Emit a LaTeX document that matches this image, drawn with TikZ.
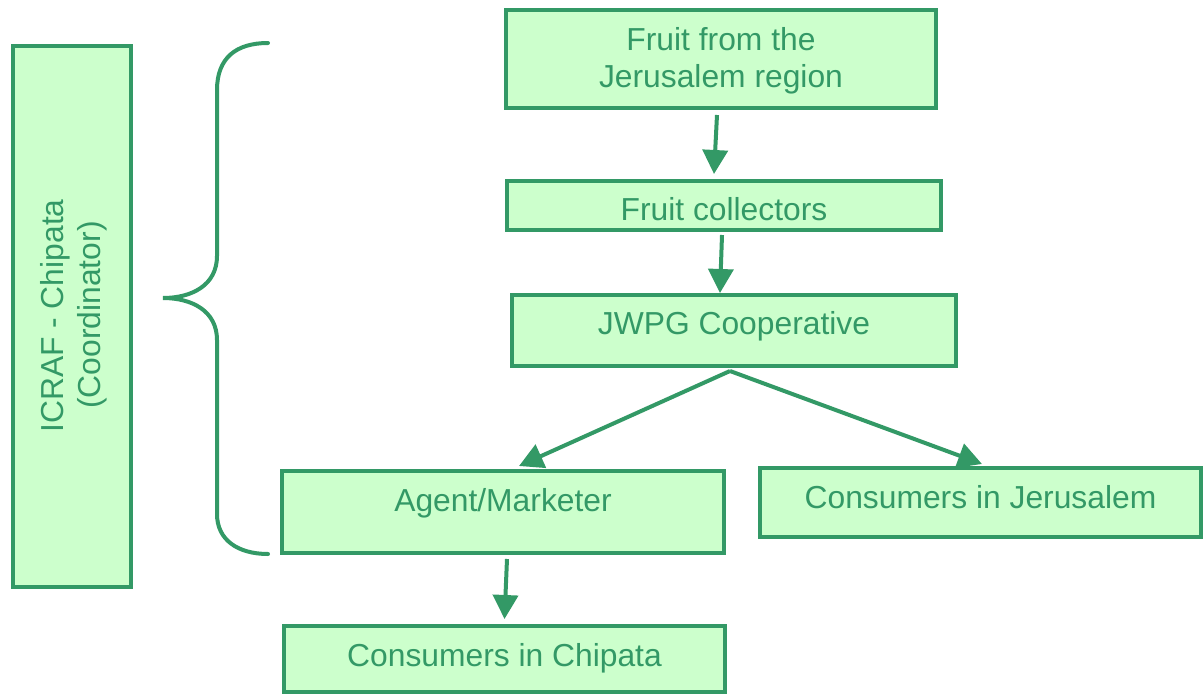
\documentclass[tikz,border=0pt]{standalone}
\usepackage{fontspec}
\setmainfont{Liberation Sans}
\usetikzlibrary{arrows.meta}
\definecolor{gfill}{HTML}{CCFFCC}
\definecolor{gline}{HTML}{339966}
\begin{document}
\begin{tikzpicture}[x=1pt,y=-1pt,
  box/.style={draw=gline,fill=gfill,line width=4pt,rectangle,inner sep=0pt,outer sep=2pt},
  txt/.style={text=gline,inner sep=0pt,outer sep=0pt,anchor=base,font=\fontsize{31.8}{37}\selectfont},
  arr/.style={draw=gline,line width=4pt,-{Triangle[length=24pt,width=25pt]}},
  bracestyle/.style={draw=gline,line width=4pt,line cap=round}]
\useasboundingbox (0,0) rectangle (1204,696);
% boxes
\node[box,minimum width=118pt,minimum height=541pt] (icraf) at (72,316.5) {};
\node[box,minimum width=430pt,minimum height=98pt] (b1) at (721,59) {};
\node[box,minimum width=434pt,minimum height=49pt] (b2) at (724,205.5) {};
\node[box,minimum width=444pt,minimum height=71pt] (b3) at (734,330.5) {};
\node[box,minimum width=442pt,minimum height=82pt] (b4) at (503,512) {};
\node[box,minimum width=441pt,minimum height=69pt] (b5) at (980.5,502.5) {};
\node[box,minimum width=441pt,minimum height=66pt] (b6) at (504.5,659) {};
% texts
\node[txt] (t1a) at (721,50) {Fruit from the};
\node[txt] (t1b) at (721,87) {Jerusalem region};
\node[txt] (t2) at (724,220) {Fruit collectors};
\node[txt] (t3) at (734,334) {JWPG Cooperative};
\node[txt] (t4) at (503,511) {Agent/Marketer};
\node[txt] (t5) at (980.5,508) {Consumers in Jerusalem};
\node[txt] (t6) at (504.5,666) {Consumers in Chipata};
\node[txt,rotate=90] (ti1) at (63,316) {ICRAF - Chipata};
\node[txt,rotate=90] (ti2) at (100,315) {(Coordinator)};
% brace
\draw[bracestyle] (268,43) .. controls (236,43) and (217,58) .. (217,90)
  -- (217,256) .. controls (217,285) and (192,298) .. (163,298)
  .. controls (192,298) and (217,311) .. (217,340)
  -- (217,514) .. controls (217,540) and (238,554) .. (268,554);
% arrows
\draw[arr] ([shift={(-4,5)}]b1.south) -- ([shift={(-10,-5)}]b2.north);
\draw[arr] ([shift={(-2,3)}]b2.south) -- ([shift={(-14,0)}]b3.north);
\draw[arr] ([shift={(-4,3)}]b3.south) -- ([shift={(16,-3)}]b4.north);
\draw[arr] ([shift={(-4,3)}]b3.south) -- ([shift={(1.5,-2)}]b5.north);
\draw[arr] ([shift={(4,4)}]b4.south) -- ([shift={(0,-5)}]b6.north);
\end{tikzpicture}
\end{document}
